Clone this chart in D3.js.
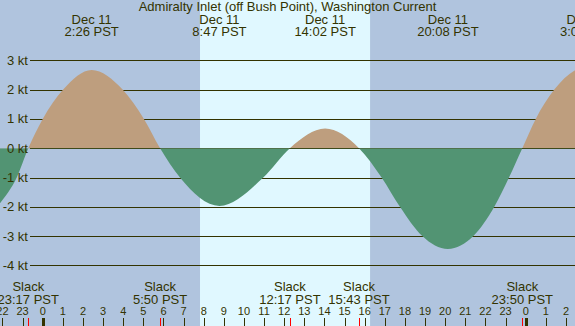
<!DOCTYPE html>
<html>
<head>
<meta charset="utf-8">
<script src="https://cdn.jsdelivr.net/npm/d3@7"></script>
<style>
  html, body { margin: 0; padding: 0; background: #b0c4de; }
  svg { display: block; font-family: "Liberation Sans", Arial, sans-serif; }
</style>
</head>
<body>
<div id="chart"></div>
<script>
// readings of the current (kt) against hours from Dec 11 00:00 PST
const readHours  = [-4.6, -2.12, -1.29, -0.717, 0.0, 1.02, 2.433, 3.97, 5.03, 5.833, 6.82, 8.783,
                    10.96, 12.283, 14.033, 15.717, 16.84, 17.75, 18.86, 20.133, 21.40, 22.44, 23.17,
                    23.833, 24.5, 25.42, 26.45, 27.05];
const readSpeeds = [-3.4, -1.88, -1, 0, 1, 2, 2.67, 2, 1, 0, -1, -1.97,
                    -1, 0, 0.67, 0, -1, -2, -3, -3.44, -3, -2, -1,
                    0, 1, 2, 2.66, 2.8];

const peakHours  = [2.433, 8.783, 14.033, 20.133, 27.05];
const peakDates  = ['Dec 11', 'Dec 11', 'Dec 11', 'Dec 11', 'Dec 12'];
const peakLabels = ['2:26 PST', '8:47 PST', '14:02 PST', '20:08 PST', '3:02 PST'];

const slackHours  = [-0.717, 5.833, 12.283, 15.717, 23.833];
const slackLabels = ['23:17 PST', '5:50 PST', '12:17 PST', '15:43 PST', '23:50 PST'];

const sunrise = 7.817, sunset = 16.267;
const ktTicks = [3, 2, 1, 0, -1, -2, -3, -4];
const hourTicks = d3.range(-2, 27);
const midnights = [0, 24];

const width = 575, height = 326;
const ink = '#333300';

const x = d3.scaleLinear().domain([-2.1217, 26.450]).range([0, width]);
const y = d3.scaleLinear().domain([-6.068, 5.058]).range([height, 0]);

const svg = d3.select('#chart').append('svg')
    .attr('width', width)
    .attr('height', height);

svg.append('rect')
    .attr('width', width).attr('height', height)
    .attr('fill', '#b0c4de');

svg.append('rect')
    .attr('x', x(sunrise)).attr('y', 0)
    .attr('width', x(sunset) - x(sunrise)).attr('height', height)
    .attr('fill', '#e0f8ff');

// grid
svg.append('g')
    .selectAll('line')
    .data(ktTicks)
    .enter().append('line')
    .attr('x1', 30).attr('x2', width)
    .attr('y1', d => Math.round(y(d)) + 0.5)
    .attr('y2', d => Math.round(y(d)) + 0.5)
    .attr('stroke', ink)
    .attr('stroke-width', 1);

// current areas, split at zero
const defs = svg.append('defs');
defs.append('clipPath').attr('id', 'above')
    .append('rect').attr('x', 0).attr('y', 0).attr('width', width).attr('height', y(0));
defs.append('clipPath').attr('id', 'below')
    .append('rect').attr('x', 0).attr('y', y(0)).attr('width', width).attr('height', height - y(0));

const pts = readHours.map((h, i) => ({ h: h, v: readSpeeds[i] }));
const area = d3.area()
    .x(d => x(d.h))
    .y0(y(0))
    .y1(d => y(d.v))
    .curve(d3.curveMonotoneX);

svg.append('path').datum(pts)
    .attr('d', area)
    .attr('fill', '#be9e7e')
    .attr('clip-path', 'url(#above)');

svg.append('path').datum(pts)
    .attr('d', area)
    .attr('fill', '#529473')
    .attr('clip-path', 'url(#below)');

// kt labels
svg.append('g')
    .selectAll('text')
    .data(ktTicks)
    .enter().append('text')
    .attr('x', 28)
    .attr('y', d => y(d) + 4.5)
    .attr('text-anchor', 'end')
    .attr('font-size', 13)
    .attr('fill', ink)
    .text(d => d + ' kt');

// title
svg.append('text')
    .attr('x', width / 2).attr('y', 11)
    .attr('text-anchor', 'middle')
    .attr('font-size', 13)
    .attr('fill', ink)
    .text('Admiralty Inlet (off Bush Point), Washington Current');

// peak labels
const peaks = svg.append('g')
    .selectAll('g')
    .data(peakHours)
    .enter().append('g')
    .attr('transform', d => `translate(${x(d)},0)`)
    .attr('text-anchor', 'middle')
    .attr('font-size', 13)
    .attr('fill', ink);
peaks.append('text').attr('y', 24).text((d, i) => peakDates[i]);
peaks.append('text').attr('y', 36).text((d, i) => peakLabels[i]);

// slack labels
const slacks = svg.append('g')
    .selectAll('g')
    .data(slackHours)
    .enter().append('g')
    .attr('transform', d => `translate(${x(d)},0)`)
    .attr('text-anchor', 'middle')
    .attr('font-size', 13)
    .attr('fill', ink);
slacks.append('text').attr('y', 291).text('Slack');
slacks.append('text').attr('y', 304).text((d, i) => slackLabels[i]);

// hour axis
svg.append('g')
    .selectAll('text')
    .data(hourTicks)
    .enter().append('text')
    .attr('x', d => x(d))
    .attr('y', 315)
    .attr('text-anchor', 'middle')
    .attr('font-size', 11)
    .attr('fill', ink)
    .text(d => ((d % 24) + 24) % 24);

svg.append('g')
    .selectAll('line')
    .data(hourTicks)
    .enter().append('line')
    .attr('x1', d => Math.round(x(d)) + 0.5)
    .attr('x2', d => Math.round(x(d)) + 0.5)
    .attr('y1', 318).attr('y2', height)
    .attr('stroke', ink);

svg.append('g')
    .selectAll('line')
    .data(slackHours)
    .enter().append('line')
    .attr('x1', d => Math.round(x(d)) + 0.5)
    .attr('x2', d => Math.round(x(d)) + 0.5)
    .attr('y1', 318).attr('y2', height)
    .attr('stroke', '#ff0000');

svg.append('g')
    .selectAll('rect')
    .data(midnights)
    .enter().append('rect')
    .attr('x', d => Math.round(x(d)) - 1)
    .attr('y', 318)
    .attr('width', 3).attr('height', height - 318)
    .attr('fill', ink);
</script>
</body>
</html>
